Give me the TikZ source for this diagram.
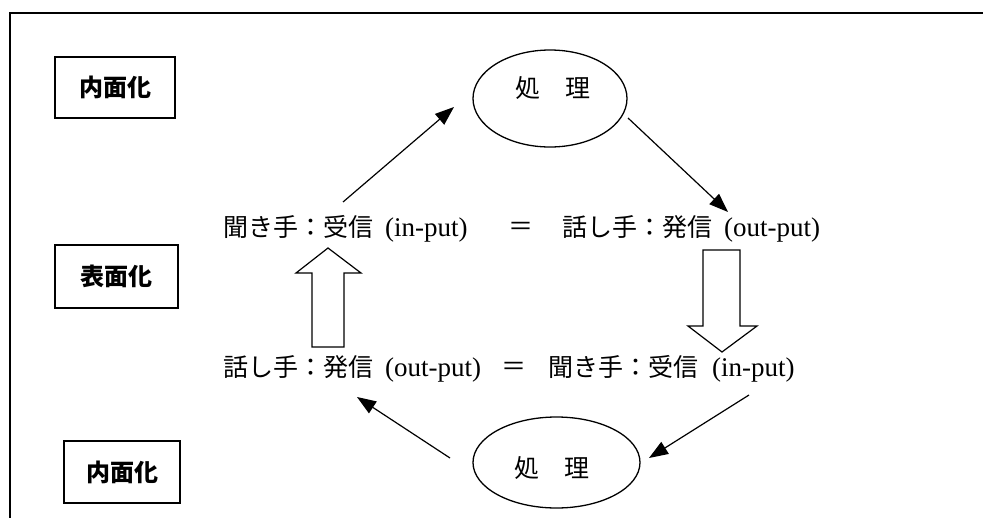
\documentclass[tikz,border=0pt]{standalone}
\usepackage{fontspec}
\setmainfont{Liberation Serif}
\newfontfamily\jp{Noto Sans CJK JP}
\newcommand\jtxt[1]{{\jp\fontsize{25}{30}\selectfont #1}}
\usetikzlibrary{arrows.meta,shapes.geometric}
\tikzset{
  frameline/.style={line width=1.6pt},
  tagbox/.style={draw, line width=1.3pt, inner sep=0pt,
    font=\jp\bfseries\fontsize{24}{28}\selectfont},
  proc/.style={draw, ellipse, line width=1.3pt, inner sep=0pt},
  proctxt/.style={inner sep=0pt, font=\jp\fontsize{25}{29}\selectfont},
  rowtxt/.style={inner sep=0pt, anchor=west, font=\fontsize{27}{31}\selectfont},
  eqtxt/.style={inner sep=0pt, font=\jp\fontsize{25}{29}\selectfont},
  conn/.style={line width=1.2pt, -{Triangle[length=19pt,width=14pt]}},
  blockarrow/.style={draw, line width=1.2pt, fill=white, line join=miter},
}
\begin{document}
\begin{tikzpicture}[x=1pt,y=-1pt]
\useasboundingbox (0,0) rectangle (983,517);

% outer frame, running off the right and lower edges
\draw[frameline] (10,530) -- (10,13) -- (995,13);

% level labels on the left
\node[tagbox, minimum width=120pt, minimum height=61pt] (in1) at (115,87.5) {内面化};
\node[tagbox, minimum width=123pt, minimum height=63pt] (surf) at (116.5,276.5) {表面化};
\node[tagbox, minimum width=116pt, minimum height=62pt] (in2) at (122,472) {内面化};

% processing ellipses
\node[proc, minimum width=154pt, minimum height=97pt] (ptop) at (550,98.5) {};
\node[proctxt] (ptoptxt) at (553,88) {処　理};
\node[proc, minimum width=167pt, minimum height=91pt] (pbot) at (556.5,462.5) {};
\node[proctxt] (pbottxt) at (552,468) {処　理};

% upper row
\node[rowtxt] (r1l) at (223,229) {\jtxt{聞き手：受信}\hspace{12pt}(in-put)};
\node[eqtxt] (r1eq) at (521,229) {＝};
\node[rowtxt] (r1r) at (562,229) {\jtxt{話し手：発信}\hspace{12pt}(out-put)};

% lower row
\node[rowtxt] (r2l) at (223,369) {\jtxt{話し手：発信}\hspace{12pt}(out-put)};
\node[eqtxt] (r2eq) at (514,369) {＝};
\node[rowtxt] (r2r) at (548,369) {\jtxt{聞き手：受信}\hspace{14pt}(in-put)};

% connector ends
\coordinate (a1s) at (343,202);
\coordinate (a1e) at (454,107);
\coordinate (a2s) at (628,118);
\coordinate (a2e) at (728,212);
\coordinate (a3s) at (749,395);
\coordinate (a3e) at (649,458);
\coordinate (a4s) at (450,458);
\coordinate (a4e) at (357,397);

\draw[conn] (a1s) -- (a1e);
\draw[conn] (a2s) -- (a2e);
\draw[conn] (a3s) -- (a3e);
\draw[conn] (a4s) -- (a4e);

% hollow block arrows between the rows
\draw[blockarrow] (312,347) -- (344,347) -- (344,273) -- (361,273) -- (328,248)
  -- (296,273) -- (312,273) -- cycle;
\draw[blockarrow] (703,250) -- (740,250) -- (740,326) -- (757,326) -- (722,352)
  -- (688,326) -- (703,326) -- cycle;
\end{tikzpicture}
\end{document}
